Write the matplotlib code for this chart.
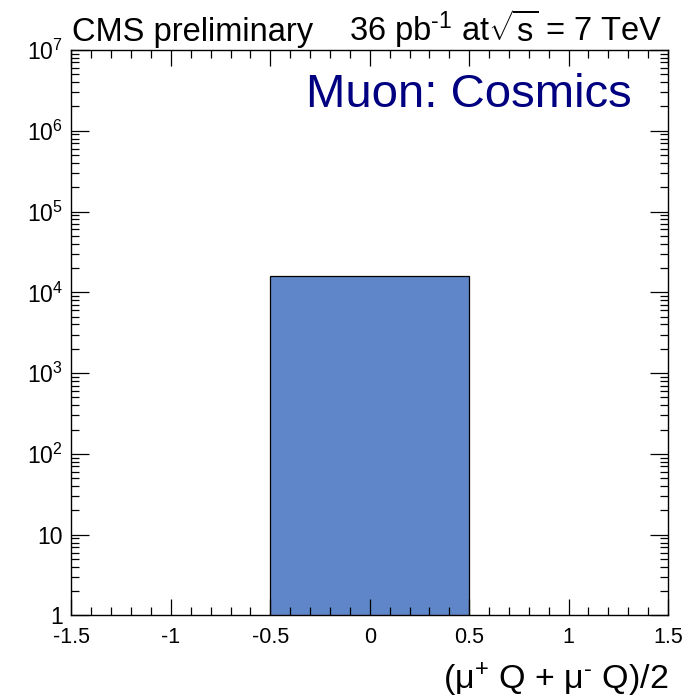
import numpy as np
import matplotlib
matplotlib.use("Agg")
import matplotlib.pyplot as plt
from matplotlib.ticker import FixedLocator, MultipleLocator, LogLocator, FuncFormatter

# --- data: charge sum histogram for cosmic muons ---
bin_edges = [-1.5, -0.5, 0.5, 1.5]
counts = [0, 16000, 0]
x_ticks = [-1.5, -1, -0.5, 0, 0.5, 1, 1.5]
x_tick_labels = ["-1.5", "-1", "-0.5", "0", "0.5", "1", "1.5"]

plt.rcParams["font.family"] = ["Liberation Sans", "DejaVu Sans"]
plt.rcParams["mathtext.fontset"] = "custom"
plt.rcParams["mathtext.rm"] = "Liberation Sans"
plt.rcParams["mathtext.it"] = "Liberation Sans:italic"
plt.rcParams["mathtext.bf"] = "Liberation Sans:bold"

fig = plt.figure(figsize=(6.86, 6.96), dpi=100)
ax = fig.add_axes([0.1042, 0.1157, 0.8696, 0.8125])

edges = np.array(bin_edges)
vals = np.array(counts, dtype=float)
centers = 0.5 * (edges[:-1] + edges[1:])
widths = np.diff(edges)
m = vals > 0
ax.bar(centers[m], vals[m], width=widths[m], bottom=0.0,
       color="#5f86c8", edgecolor="black", linewidth=0.9)

ax.set_yscale("log")
ax.set_xlim(-1.5, 1.5)
ax.set_ylim(1, 1e7)

# --- ticks, ROOT style ---
ax.xaxis.set_major_locator(FixedLocator(x_ticks))
ax.set_xticklabels(x_tick_labels)
ax.xaxis.set_minor_locator(MultipleLocator(0.1))
ax.yaxis.set_major_locator(LogLocator(base=10, numticks=20))
ax.yaxis.set_minor_locator(LogLocator(base=10, subs=np.arange(2, 10), numticks=20))


def fmt(v, pos):
    e = int(round(np.log10(v)))
    if e == 0:
        return "1"
    if e == 1:
        return "10"
    return r"$\mathregular{10^{%d}}$" % e


ax.yaxis.set_major_formatter(FuncFormatter(fmt))
ax.tick_params(which="both", direction="in", top=True, right=True,
               width=0.9, color="black")
ax.tick_params(axis="x", which="major", length=11.5, pad=8, labelsize=15.5)
ax.tick_params(axis="y", which="major", length=13, pad=6, labelsize=16.5)
ax.tick_params(which="minor", length=6)
for s in ax.spines.values():
    s.set_linewidth(1.0)

# axis title, right-aligned under the frame
fig.text(668 / 686, 1 - 689 / 696,
         r"($\mathregular{μ^{+}}$ Q + $\mathregular{μ^{\text{-}}}$ Q)/2",
         fontsize=24.5, ha="right", va="baseline")

# --- header texts ---
fig.text(72 / 686, 1 - 41 / 696, "CMS preliminary", fontsize=23.5,
         ha="left", va="baseline")
fig.text(663 / 686, 1 - 41 / 696,
         r"36 pb$\mathregular{^{\text{-}1}}$ at$\sqrt{\mathregular{s}}$ = 7 TeV",
         fontsize=23.5, ha="right", va="baseline")
fig.text(632 / 686, 1 - 107 / 696, "Muon: Cosmics", fontsize=34,
         color="#000080", ha="right", va="baseline")

fig.savefig("out.png", dpi=100)
